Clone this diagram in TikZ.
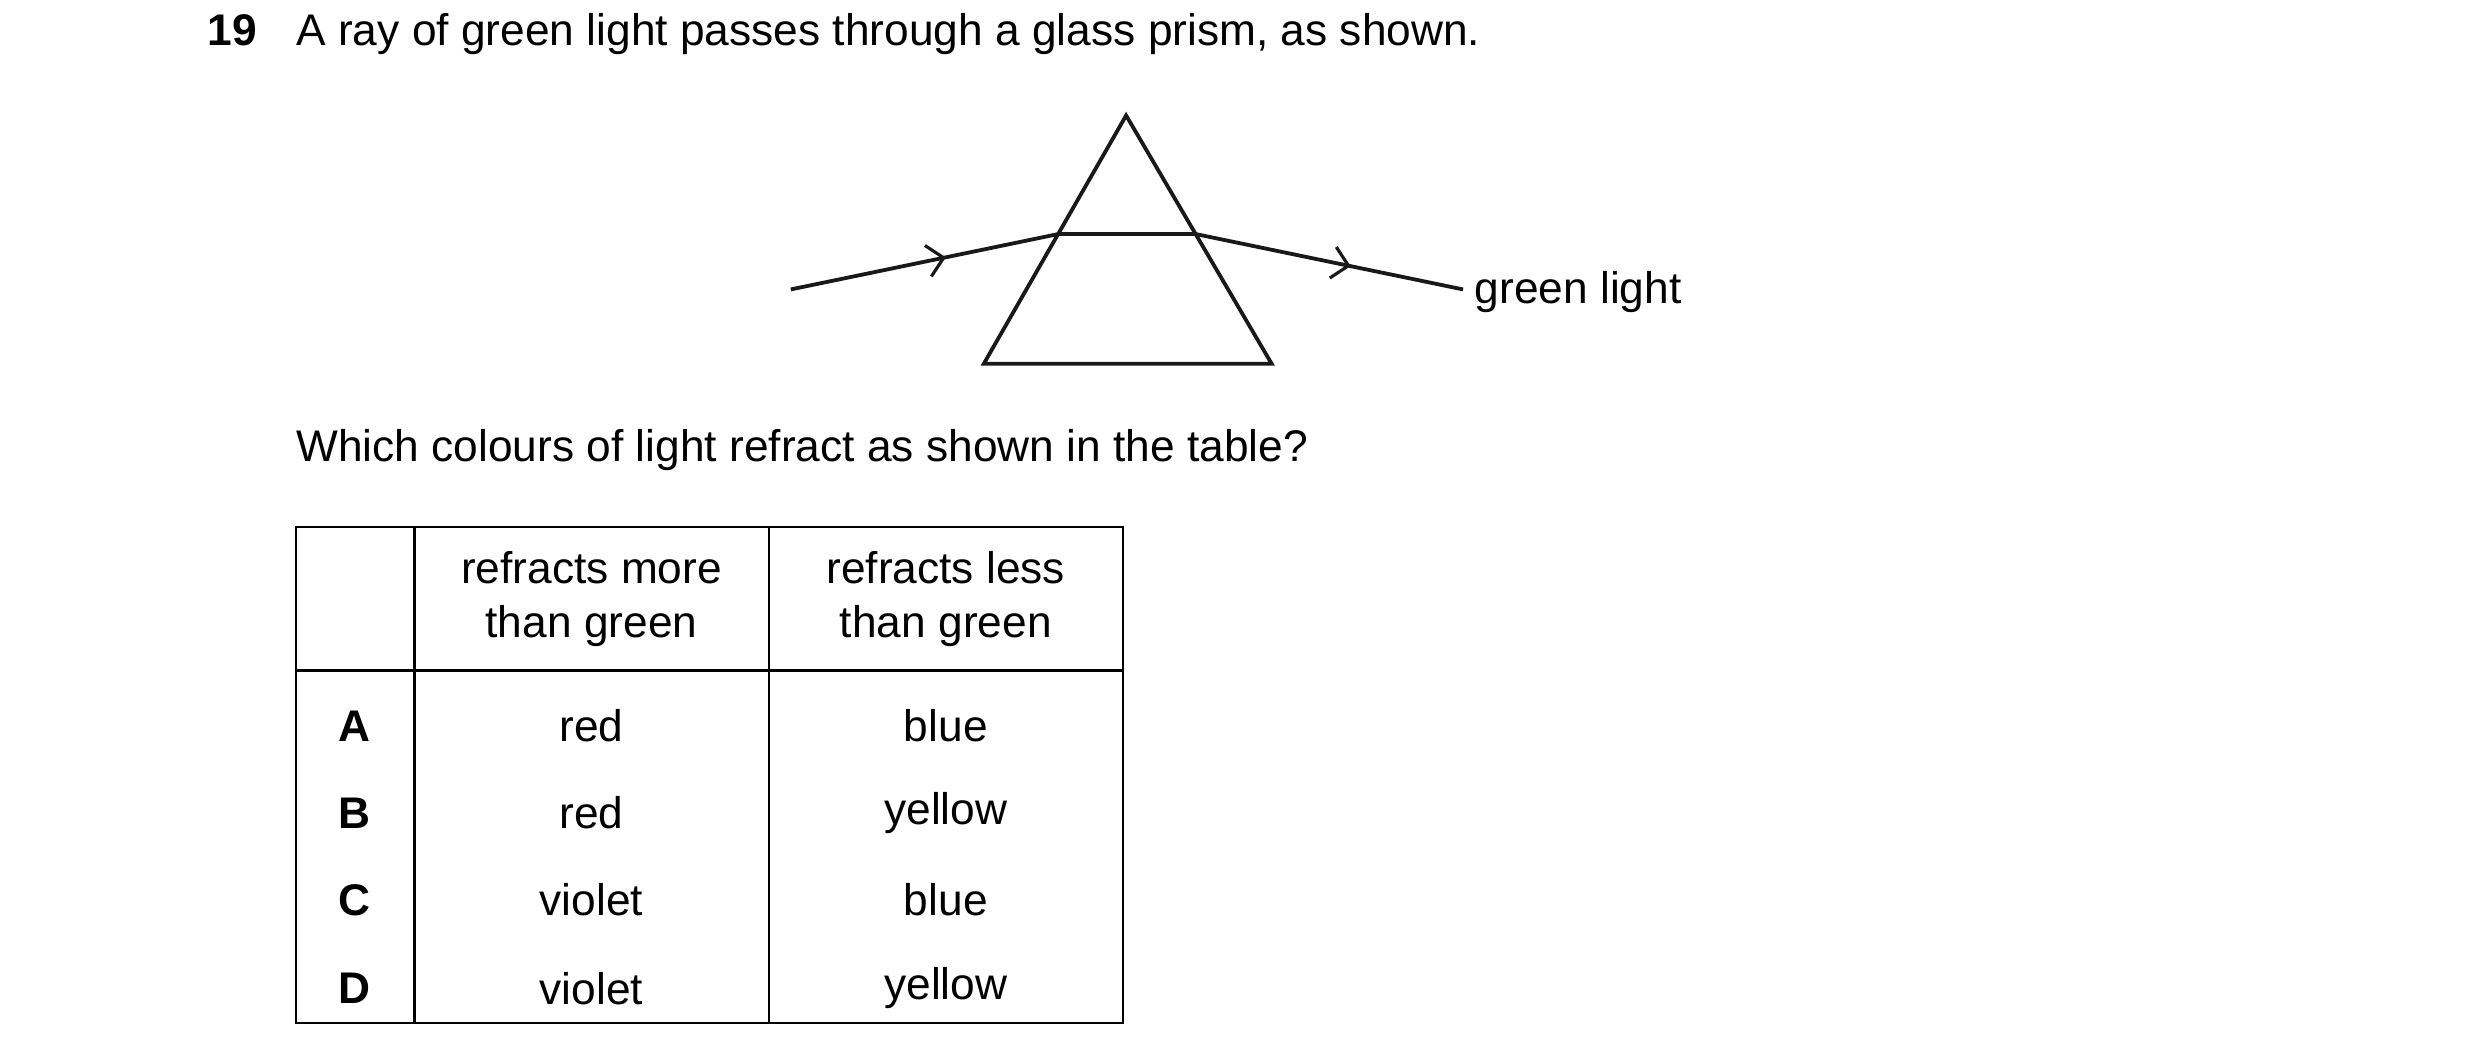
\documentclass[tikz,border=0pt]{standalone}
\usepackage{fontspec}
\setmainfont{Liberation Sans}
\usetikzlibrary{arrows.meta,decorations.markings}
\begin{document}
\begin{tikzpicture}[x=0.5pt,y=-0.5pt,
  txt/.style={inner sep=0pt,font=\fontsize{14}{17}\selectfont},
  ln/.style={line width=1.2pt,color=black!90},
  tl/.style={line width=0.7pt},
  ray/.style={ln,postaction={decorate},decoration={markings,mark=at position #1 with {\arrow{Straight Barb[length=5pt,width=10pt,line width=1pt]}}}}]
\useasboundingbox (0,0) rectangle (1568,672);
% question
\node[txt,anchor=base west,font=\fontsize{14}{17}\selectfont\bfseries] (num) at (131,29) {19};
\node[txt,anchor=base west] (q) at (187,29) {A ray of green light passes through a glass prism, as shown.};
% prism
\coordinate (apex) at (712,73);
\coordinate (bl) at (622,230);
\coordinate (br) at (804,230);
\coordinate (p1) at (669,148);
\coordinate (p2) at (756,148);
\coordinate (in0) at (500,183);
\coordinate (out0) at (925,183);
\draw[ln,line join=miter] (apex) -- (bl) -- (br) -- cycle;
\draw[ln] (p1) -- (p2);
\draw[ray=0.58] (in0) -- (p1);
\draw[ray=0.58] (p2) -- (out0);
\node[txt,anchor=base west] (gl) at (932,192) {green light};
\node[txt,anchor=base west] (w) at (187,292) {Which colours of light refract as shown in the table?};
% table
\draw[tl] (187,333) rectangle (710,647);
\draw[tl] (187,424) -- (710,424);
\draw[tl] (262,333) -- (262,647);
\draw[tl] (486,333) -- (486,647);
\node[txt,align=center] (h1) at (374,379) {refracts more\\than green};
\node[txt,align=center] (h2) at (598,379) {refracts less\\than green};
\foreach \y/\l/\a/\b in {459/A/red/blue,514/B/red/yellow,569/C/violet/blue,625/D/violet/yellow}{
  \node[txt,font=\fontsize{14}{17}\selectfont\bfseries] (l\l) at (224,\y) {\l};
  \node[txt] (a\l) at (374,\y) {\a};
  \node[txt] (b\l) at (598,\y) {\b};
}
\end{tikzpicture}
\end{document}
